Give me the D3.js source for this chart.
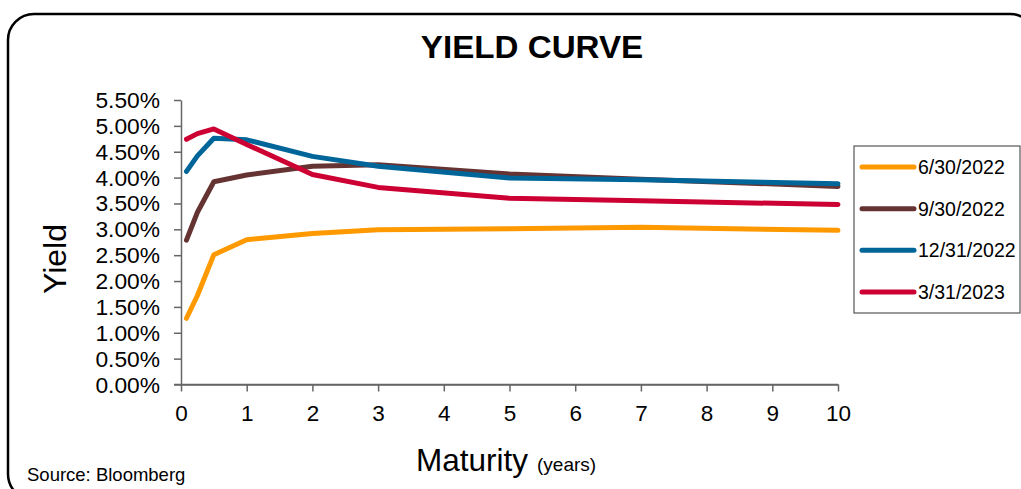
<!DOCTYPE html>
<html>
<head>
<meta charset="utf-8">
<script src="https://cdn.jsdelivr.net/npm/d3@7"></script>
<style>
  html, body { margin: 0; padding: 0; background: #fff; }
  svg { display: block; font-family: "Liberation Sans", Arial, sans-serif; }
</style>
</head>
<body>
<svg id="chart" width="1021" height="489"></svg>
<script>
// ---- data ----
const maturities = [1/12, 0.25, 0.5, 1, 2, 3, 5, 7, 10];
const seriesNames = ["6/30/2022", "9/30/2022", "12/31/2022", "3/31/2023"];
const yields_2022_06_30 = [1.28, 1.72, 2.51, 2.80, 2.92, 2.99, 3.01, 3.04, 2.98];
const yields_2022_09_30 = [2.79, 3.33, 3.92, 4.05, 4.22, 4.25, 4.07, 3.97, 3.83];
const yields_2022_12_31 = [4.12, 4.42, 4.76, 4.73, 4.41, 4.22, 3.99, 3.96, 3.88];
const yields_2023_03_31 = [4.74, 4.85, 4.94, 4.64, 4.06, 3.81, 3.60, 3.55, 3.48];
const xTicks = [0, 1, 2, 3, 4, 5, 6, 7, 8, 9, 10];
const yTicks = [0, 0.5, 1, 1.5, 2, 2.5, 3, 3.5, 4, 4.5, 5, 5.5];
const colors = ["#FF9900", "#663333", "#006699", "#CC0033"];

const series = [yields_2022_06_30, yields_2022_09_30, yields_2022_12_31, yields_2023_03_31]
  .map((vals, i) => ({ name: seriesNames[i], color: colors[i],
                       points: maturities.map((m, j) => ({ m, v: vals[j] })) }));

const svg = d3.select("#chart");

// ---- frame ----
svg.append("rect")
  .attr("x", 8).attr("y", 14).attr("width", 1028).attr("height", 486)
  .attr("rx", 26).attr("ry", 26)
  .attr("fill", "none").attr("stroke", "#000").attr("stroke-width", 2.5);

// ---- scales ----
const x = d3.scaleLinear().domain([0, 10]).range([181, 838]);
const y = d3.scaleLinear().domain([0, 5.5]).range([384.5, 100]);

// ---- axes ----
const axisColor = "#666";
const yAxis = svg.append("g").attr("transform", `translate(${x(0)},0)`)
  .call(d3.axisLeft(y).tickValues(yTicks).tickSize(7).tickSizeOuter(0)
        .tickFormat(d => d.toFixed(2) + "%"));
yAxis.select(".domain").attr("stroke", axisColor).attr("stroke-width", 1.5);
yAxis.selectAll(".tick line").attr("stroke", axisColor).attr("stroke-width", 1.5);
yAxis.selectAll(".tick text")
  .attr("x", 0).attr("dy", null)
  .attr("transform", "translate(-21,7.5) scale(1.06,1)")
  .attr("font-size", 21.5).attr("fill", "#000")
  .attr("font-family", "Liberation Sans, Arial, sans-serif");

const xAxis = svg.append("g").attr("transform", `translate(0,${y(0)})`)
  .call(d3.axisBottom(x).tickValues(xTicks).tickSize(7).tickSizeOuter(0));
xAxis.select(".domain").attr("stroke", axisColor).attr("stroke-width", 1.5);
xAxis.selectAll(".tick line").attr("stroke", axisColor).attr("stroke-width", 1.5);
xAxis.selectAll(".tick text")
  .attr("y", 36).attr("dy", null)
  .attr("font-size", 22.5).attr("fill", "#000")
  .attr("font-family", "Liberation Sans, Arial, sans-serif");
// extend x baseline to meet y tick
svg.append("line").attr("x1", x(0) - 7).attr("x2", x(10))
  .attr("y1", y(0)).attr("y2", y(0)).attr("stroke", axisColor).attr("stroke-width", 1.5);

// ---- lines ----
const line = d3.line().x(d => x(d.m)).y(d => y(d.v));
svg.append("g").selectAll("path").data(series).join("path")
  .attr("d", d => line(d.points))
  .attr("fill", "none")
  .attr("stroke", d => d.color)
  .attr("stroke-width", 5)
  .attr("stroke-linejoin", "round")
  .attr("stroke-linecap", "round");

// ---- titles ----
svg.append("text")
  .attr("transform", "translate(532,58) scale(1.07,1)")
  .attr("text-anchor", "middle").attr("font-weight", "bold").attr("font-size", 31)
  .text("YIELD CURVE");

svg.append("text")
  .attr("transform", "translate(66,259) rotate(-90)")
  .attr("text-anchor", "middle").attr("font-size", 32)
  .text("Yield");

const xt = svg.append("text").attr("x", 416).attr("y", 471).attr("font-size", 31.5);
xt.append("tspan").text("Maturity");
xt.append("tspan").attr("font-size", 19).attr("dx", 9).text("(years)");

svg.append("text").attr("x", 27).attr("y", 481).attr("font-size", 18.5)
  .text("Source: Bloomberg");

// ---- legend ----
const lg = svg.append("g");
lg.append("rect").attr("x", 854).attr("y", 146).attr("width", 166).attr("height", 167)
  .attr("fill", "#fff").attr("stroke", "#555").attr("stroke-width", 1.2);
const legendY = d3.scalePoint().domain(seriesNames).range([167, 292]);
const items = lg.selectAll("g.item").data(series).join("g").attr("class", "item")
  .attr("transform", d => `translate(0,${legendY(d.name)})`);
items.append("line").attr("x1", 862).attr("x2", 914).attr("y1", 0).attr("y2", 0)
  .attr("stroke", d => d.color).attr("stroke-width", 5).attr("stroke-linecap", "round");
items.append("text").attr("x", 918).attr("y", 7).attr("font-size", 19.5)
  .text(d => d.name);
</script>
</body>
</html>
